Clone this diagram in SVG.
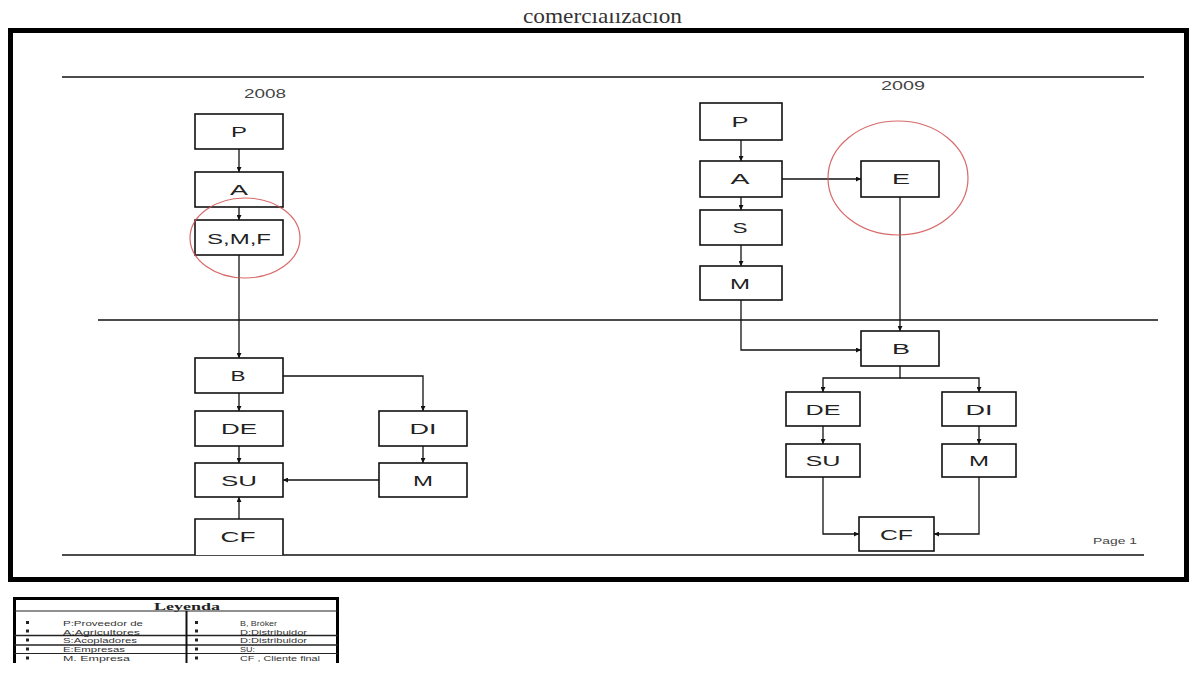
<svg xmlns="http://www.w3.org/2000/svg" width="1194" height="685" viewBox="0 0 1194 685">
<style>
.box{fill:#fff;stroke:#111;stroke-width:1.6}
.lbl{font-family:"Liberation Sans",Arial,sans-serif;font-size:15px;fill:#222;text-anchor:middle}
.con{fill:none;stroke:#111;stroke-width:1.3}
.arr{marker-end:url(#ah)}
.rule{stroke:#111;stroke-width:1.6}
.ring{fill:none;stroke:#d05050;stroke-width:1.2;opacity:0.85}
.lg{font-family:"Liberation Sans",Arial,sans-serif;font-size:7.6px;fill:#333}
.yr{font-family:"Liberation Sans",Arial,sans-serif;font-size:12px;fill:#444;text-anchor:middle}
</style>
<defs>
<marker id="ah" viewBox="0 0 6 6" refX="6" refY="3" markerWidth="5" markerHeight="5" markerUnits="userSpaceOnUse" orient="auto">
<path d="M0,0 L6,3 L0,6 z" fill="#111"/>
</marker>
<clipPath id="titleclip"><rect x="400" y="13" width="400" height="20"/></clipPath>
<clipPath id="legclip"><rect x="0" y="590" width="400" height="73"/></clipPath>
</defs>
<rect width="1194" height="685" fill="#fff"/>
<g id="title" clip-path="url(#titleclip)">
<text x="523" y="22.5" font-family="Liberation Serif,Times New Roman,serif" font-size="22" fill="#333" textLength="159" lengthAdjust="spacingAndGlyphs">comercialización</text>
</g>
<rect id="frame" x="10.5" y="30.5" width="1176" height="549" fill="none" stroke="#000" stroke-width="5"/>
<g id="rules">
<line class="rule" x1="62" y1="77" x2="1144" y2="77"/>
<line class="rule" x1="98" y1="320" x2="1158" y2="320"/>
<line class="rule" x1="62" y1="555" x2="1144" y2="555"/>
</g>
<text id="y2008" class="yr" x="265" y="98" textLength="42" lengthAdjust="spacingAndGlyphs">2008</text>
<text id="y2009" class="yr" x="903" y="90" textLength="44" lengthAdjust="spacingAndGlyphs">2009</text>
<text id="page" x="1093" y="544" font-family="Liberation Sans,Arial,sans-serif" font-size="9" fill="#444" textLength="44" lengthAdjust="spacingAndGlyphs">Page 1</text>
<g id="connectors">
<line class="con arr" x1="239" y1="149" x2="239" y2="172"/>
<line class="con arr" x1="239" y1="207" x2="239" y2="220"/>
<line class="con arr" x1="239" y1="255" x2="239" y2="358"/>
<line class="con arr" x1="239" y1="393" x2="239" y2="411"/>
<line class="con arr" x1="239" y1="446" x2="239" y2="463"/>
<line class="con arr" x1="239" y1="519" x2="239" y2="497"/>
<path class="con arr" d="M283,376 H423 V411"/>
<line class="con arr" x1="423" y1="446" x2="423" y2="463"/>
<line class="con arr" x1="379" y1="480" x2="283" y2="480"/>
<line class="con arr" x1="741" y1="140" x2="741" y2="161"/>
<line class="con arr" x1="741" y1="197" x2="741" y2="210"/>
<line class="con arr" x1="741" y1="245" x2="741" y2="266"/>
<line class="con arr" x1="782" y1="179" x2="861" y2="179"/>
<line class="con arr" x1="900" y1="197" x2="900" y2="331"/>
<path class="con arr" d="M741,300 V350 H861"/>
<path class="con arr" d="M900,366 V378 H823 V392"/>
<path class="con arr" d="M900,378 H979 V392"/>
<line class="con arr" x1="823" y1="426" x2="823" y2="444"/>
<line class="con arr" x1="979" y1="426" x2="979" y2="444"/>
<path class="con arr" d="M823,477 V534 H859"/>
<path class="con arr" d="M979,477 V534 H934"/>
</g>
<g id="L_P"><rect class="box" x="195" y="114" width="88" height="35"/><text class="lbl" x="239" y="136.5" textLength="16" lengthAdjust="spacingAndGlyphs">P</text></g>
<g id="L_A"><rect class="box" x="195" y="172" width="88" height="35"/><text class="lbl" x="239" y="194.5" textLength="18" lengthAdjust="spacingAndGlyphs">A</text></g>
<g id="L_SMF"><rect class="box" x="195" y="220" width="88" height="35"/><text class="lbl" x="239" y="243.5" font-size="16" textLength="64" lengthAdjust="spacingAndGlyphs">S,M,F</text></g>
<g id="L_B"><rect class="box" x="195" y="358" width="88" height="35"/><text class="lbl" x="238" y="380.5" textLength="15" lengthAdjust="spacingAndGlyphs">B</text></g>
<g id="L_DE"><rect class="box" x="195" y="411" width="88" height="35"/><text class="lbl" x="239" y="433.5" textLength="36" lengthAdjust="spacingAndGlyphs">DE</text></g>
<g id="L_SU"><rect class="box" x="195" y="463" width="88" height="34"/><text class="lbl" x="239" y="485.5" textLength="36" lengthAdjust="spacingAndGlyphs">SU</text></g>
<g id="L_CF"><path class="box" d="M195,555 V519 H283 V555"/><text class="lbl" x="238" y="542" textLength="35" lengthAdjust="spacingAndGlyphs">CF</text></g>
<g id="L_DI"><rect class="box" x="379" y="411" width="88" height="35"/><text class="lbl" x="423" y="433.5" textLength="27" lengthAdjust="spacingAndGlyphs">DI</text></g>
<g id="L_M"><rect class="box" x="379" y="463" width="88" height="34"/><text class="lbl" x="423" y="485.5" textLength="20" lengthAdjust="spacingAndGlyphs">M</text></g>
<ellipse id="L_ring" class="ring" cx="245" cy="238" rx="55" ry="40"/>
<g id="R_P"><rect class="box" x="700" y="103" width="82" height="37"/><text class="lbl" x="740" y="126.5" textLength="17" lengthAdjust="spacingAndGlyphs">P</text></g>
<g id="R_A"><rect class="box" x="700" y="161" width="82" height="36"/><text class="lbl" x="740" y="184" textLength="19" lengthAdjust="spacingAndGlyphs">A</text></g>
<g id="R_S"><rect class="box" x="700" y="210" width="82" height="35"/><text class="lbl" x="740" y="233" textLength="15" lengthAdjust="spacingAndGlyphs">S</text></g>
<g id="R_M"><rect class="box" x="700" y="266" width="82" height="34"/><text class="lbl" x="740" y="288.5" textLength="20" lengthAdjust="spacingAndGlyphs">M</text></g>
<g id="R_E"><rect class="box" x="861" y="161" width="78" height="36"/><text class="lbl" x="901" y="184" textLength="18" lengthAdjust="spacingAndGlyphs">E</text></g>
<g id="R_B"><rect class="box" x="861" y="331" width="78" height="35"/><text class="lbl" x="901" y="353.5" textLength="18" lengthAdjust="spacingAndGlyphs">B</text></g>
<g id="R_DE"><rect class="box" x="786" y="392" width="74" height="34"/><text class="lbl" x="823" y="414.5" textLength="35" lengthAdjust="spacingAndGlyphs">DE</text></g>
<g id="R_DI"><rect class="box" x="942" y="392" width="74" height="34"/><text class="lbl" x="979" y="414.5" textLength="27" lengthAdjust="spacingAndGlyphs">DI</text></g>
<g id="R_SU"><rect class="box" x="786" y="444" width="74" height="33"/><text class="lbl" x="823" y="466" textLength="35" lengthAdjust="spacingAndGlyphs">SU</text></g>
<g id="R_M2"><rect class="box" x="942" y="444" width="74" height="33"/><text class="lbl" x="979" y="466" textLength="20" lengthAdjust="spacingAndGlyphs">M</text></g>
<g id="R_CF"><rect class="box" x="859" y="517" width="75" height="34"/><text class="lbl" x="896.5" y="539.5" textLength="33" lengthAdjust="spacingAndGlyphs">CF</text></g>
<ellipse id="R_ring" class="ring" cx="898" cy="178" rx="70" ry="57"/>
<g id="legend" clip-path="url(#legclip)">
<rect x="14.5" y="598.5" width="323" height="80" fill="#fff" stroke="#000" stroke-width="3"/>
<line x1="14" y1="611" x2="338" y2="611" stroke="#222" stroke-width="1"/>
<line x1="14" y1="635.5" x2="338" y2="635.5" stroke="#222" stroke-width="1.6"/>
<line x1="14" y1="645" x2="338" y2="645" stroke="#222" stroke-width="1.6"/>
<line x1="14" y1="653.5" x2="338" y2="653.5" stroke="#222" stroke-width="1.2"/>
<line x1="186.5" y1="611" x2="186.5" y2="680" stroke="#111" stroke-width="2"/>
<text x="187" y="609.5" font-family="Liberation Serif,Times New Roman,serif" font-size="11" font-weight="bold" fill="#222" text-anchor="middle" textLength="66" lengthAdjust="spacingAndGlyphs">Leyenda</text>
<g fill="#222">
<rect x="26" y="621" width="3" height="3"/><rect x="26" y="629.5" width="3" height="3"/><rect x="26" y="638.5" width="3" height="3"/><rect x="26" y="647.5" width="3" height="3"/><rect x="26" y="656.5" width="3" height="3"/>
<rect x="195" y="621" width="3" height="3"/><rect x="195" y="629.5" width="3" height="3"/><rect x="195" y="638.5" width="3" height="3"/><rect x="195" y="647.5" width="3" height="3"/><rect x="195" y="656.5" width="3" height="3"/>
</g>
<text class="lg" x="63" y="625.8" textLength="80" lengthAdjust="spacingAndGlyphs">P:Proveedor de</text>
<text class="lg" x="63" y="634.6" textLength="77" lengthAdjust="spacingAndGlyphs">A:Agricultores</text>
<text class="lg" x="63" y="643.4" textLength="74" lengthAdjust="spacingAndGlyphs">S:Acopladores</text>
<text class="lg" x="63" y="652.2" textLength="62" lengthAdjust="spacingAndGlyphs">E:Empresas</text>
<text class="lg" x="63" y="661" textLength="67" lengthAdjust="spacingAndGlyphs">M. Empresa</text>
<text class="lg" x="240" y="625.8" textLength="37" lengthAdjust="spacingAndGlyphs">B, Bróker</text>
<text class="lg" x="240" y="634.6" textLength="67" lengthAdjust="spacingAndGlyphs">D:Distribuidor</text>
<text class="lg" x="240" y="643.4" textLength="67" lengthAdjust="spacingAndGlyphs">D:Distribuidor</text>
<text class="lg" x="240" y="652.2" textLength="15" lengthAdjust="spacingAndGlyphs">SU:</text>
<text class="lg" x="240" y="661" textLength="80" lengthAdjust="spacingAndGlyphs">CF , Cliente final</text>
</g>
</svg>
